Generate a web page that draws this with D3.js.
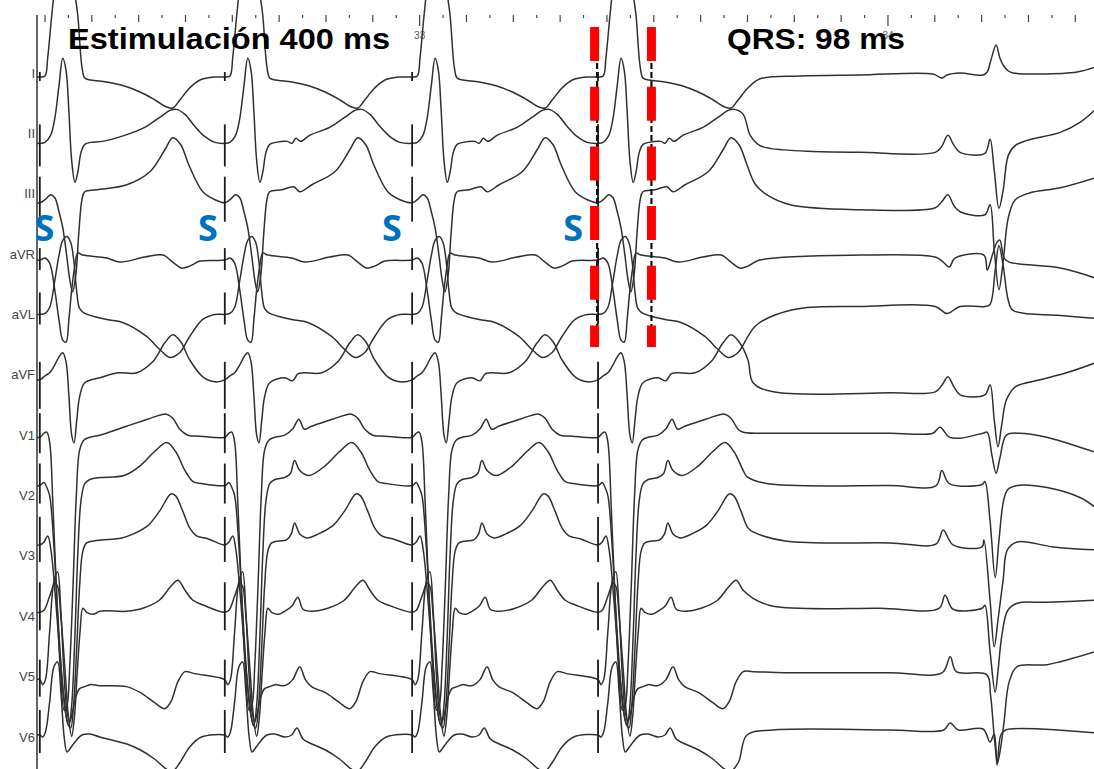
<!DOCTYPE html>
<html>
<head>
<meta charset="utf-8">
<script src="https://cdn.jsdelivr.net/npm/d3@7"></script>
<style>
  body { margin: 0; background: #fff; }
  svg { display: block; font-family: "Liberation Sans", Arial, sans-serif; }
</style>
</head>
<body>
<div id="container"></div>
<script>
// ---- data (time in ms on the recording clock, amplitude in mV) ----
const leads = ["I", "II", "III", "aVR", "aVL", "aVF", "V1", "V2", "V3", "V4", "V5", "V6"];
const stimTimes = [32190, 32585, 32985, 33382];
const sMarkTimes = [32200, 32549, 32942, 33329];
const blackCalipers = [33380, 33496];
const redCalipers = [33374.6, 33496];

// stimulus artifact height above / below the baseline (mV)
const spikeUp =   [0.05, 0.19, 0.26, 0.12, 0.22, 0.18, 0.24, 0.22, 0.28, 0.30, 0.20, 0.25];
const spikeDown = [0.04, 0.23, 0.19, 0.10, 0.10, 0.29, 0.16, 0.18, 0.17, 0.18, 0.17, 0.18];

// paced beat: [ms after stimulus, mV, 1 = wave seen only from the 2nd beat on]
const pacedI = [[0,-0.04],[11,-0.03],[17,0.16],[26,0.60],[34,0.91],[45,1.08],[56,1.10],[66,1.00],[75,0.78],[81,0.58],[90,0.06],[96,-0.05],[109,-0.07],[143,-0.09],[181,-0.13],[214,-0.19],[246,-0.27],[271,-0.34],[284,-0.35],[299,-0.27],[320,-0.15],[342,-0.07],[374,-0.04],[399,-0.04]];
const pacedII = [[0,-0.10],[11,-0.09],[23,-0.02],[32,0.15],[41,0.48],[49,0.75],[56,0.63],[62,0.23],[68,-0.27],[75,-0.49],[81,-0.39],[88,-0.19],[96,-0.11],[109,-0.09],[134,-0.08],[143,-0.10,1],[152,-0.05,1],[162,-0.08,1],[181,-0.02],[224,0.06],[256,0.16],[278,0.23],[292,0.24],[310,0.19],[331,0.07],[352,-0.03],[374,-0.09],[399,-0.10]];
const pacedIII = [[0,-0.09],[11,-0.06],[23,-0.01],[32,-0.04],[41,-0.18],[49,-0.34],[58,-0.64],[64,-0.86],[70,-0.98],[77,-0.81],[83,-0.41],[90,-0.06],[96,0.02],[122,0.04],[147,0.07,1],[160,0.02,1],[186,0.09],[235,0.22],[267,0.44],[284,0.56],[301,0.49],[318,0.29],[348,0.02],[374,-0.06],[399,-0.09]];
const pacedAVR = [[0,-0.06],[11,-0.04],[21,-0.09],[32,-0.36],[41,-0.66],[49,-0.86],[56,-0.88],[62,-0.66],[68,-0.36],[75,-0.11],[81,0.01],[92,-0.01],[143,-0.04],[171,-0.08],[224,-0.03],[263,-0.01],[284,-0.08],[303,-0.14],[320,-0.12],[342,-0.07],[399,-0.04]];
const pacedAVL = [[0,0.0],[11,0.01],[21,0.07],[32,0.34],[41,0.59],[49,0.74],[58,0.78],[66,0.72],[73,0.52],[79,0.22],[85,0.06],[96,0.01],[143,-0.05],[177,-0.08],[228,-0.22],[256,-0.35],[278,-0.43],[299,-0.38],[320,-0.22],[348,-0.05],[374,0.0],[399,0.01]];
const pacedAVF = [[0,-0.05],[11,-0.01],[21,0.02],[32,0.10],[41,0.18],[49,0.22],[56,0.13],[62,-0.20],[68,-0.60],[73,-0.68],[79,-0.45],[85,-0.22],[96,-0.08],[128,-0.03],[145,-0.06,1],[156,0.01,1],[167,0.02],[207,0.02],[241,0.13],[267,0.32],[284,0.40],[301,0.33],[320,0.15],[348,-0.02],[374,-0.07],[399,-0.09]];
const pacedV1 = [[0,-0.02],[9,0.02],[15,0.03],[21,-0.07],[28,-0.7],[36,-1.6],[44,-2.35],[52,-2.75],[58,-2.7],[64,-2.3],[71,-1.5],[78,-0.6],[85,-0.15],[94,-0.05],[107,-0.02],[128,0.0],[146,0.07,1],[158,0.16,1],[170,0.06,1],[185,0.09],[230,0.16],[256,0.20],[271,0.21],[284,0.17],[299,0.06],[316,0.0],[342,-0.01],[399,-0.02]];
const pacedV2 = [[0,0.10],[9,0.13],[15,0.08],[21,0.0],[30,-0.5],[38,-1.15],[47,-1.8],[56,-2.2],[62,-2.3],[68,-2.1],[75,-1.4],[81,-0.6],[88,-0.05],[96,0.12],[107,0.16],[128,0.18],[140,0.22,1],[149,0.35,1],[160,0.25,1],[180,0.20],[215,0.30],[245,0.44],[271,0.53],[290,0.44],[310,0.25],[327,0.14],[345,0.12],[399,0.12]];
const pacedV3 = [[0,0.11],[9,0.14],[17,0.20],[24,0.05],[34,-0.45],[43,-1.0],[52,-1.45],[60,-1.68],[66,-1.72],[72,-1.5],[79,-0.9],[85,-0.3],[92,0.05],[100,0.13],[115,0.15],[132,0.16],[142,0.22,1],[149,0.33,1],[160,0.22,1],[175,0.18],[200,0.22],[230,0.30],[256,0.45],[280,0.62],[290,0.60],[305,0.45],[320,0.28],[335,0.20],[360,0.17],[399,0.16]];
const pacedV4 = [[0,0.04],[9,0.06],[21,0.20],[32,0.33],[38,0.30],[45,0.0],[54,-0.55],[61,-1.0],[68,-1.2],[74,-1.0],[80,-0.55],[86,-0.15],[92,0.08],[100,0.04],[115,0.02],[128,0.05],[143,0.10,1],[156,0.19,1],[167,0.07,1],[185,0.05],[220,0.08],[255,0.16],[280,0.30],[295,0.36],[310,0.26],[327,0.16],[350,0.11],[399,0.09]];
const pacedV5 = [[0,-0.03],[6,-0.08],[12,-0.03],[21,0.45],[30,0.95],[38,1.05],[45,0.65],[52,0.0],[58,-0.35],[64,-0.45],[70,-0.35],[77,-0.2],[85,-0.12],[96,-0.1],[107,-0.08],[128,-0.09],[145,-0.03,1],[160,0.10,1],[172,-0.03,1],[185,-0.10],[215,-0.16],[245,-0.26],[267,-0.32],[280,-0.25],[295,-0.05],[310,0.05],[330,0.03],[399,0.02]];
const pacedV6 = [[0,0.02],[6,0.0],[12,0.05],[21,0.35],[30,0.7],[38,0.75],[45,0.45],[52,0.0],[58,-0.15],[64,-0.12],[75,-0.05],[90,0.02],[107,0.03],[128,0.0],[143,0.02,1],[154,0.09,1],[167,-0.02,1],[186,-0.07],[215,-0.13],[245,-0.22],[270,-0.32],[284,-0.34],[300,-0.25],[320,-0.10],[345,0.0],[399,0.05]];

// after the last stimulus: pause, P wave and the conducted QRS [ms after last stimulus, mV]
const tailI = [[345,-0.06],[431,-0.03],[559,-0.02],[715,-0.01],[734,-0.05],[745,-0.02],[773,0.0],[822,-0.02],[831,0.01],[839,0.13],[850,0.28],[858,0.15],[865,0.08],[876,0.02],[886,0.0],[944,-0.01],[1023,0.01],[1062,0.06]];
const tailII = [[325,-0.02],[345,-0.12],[367,-0.15],[450,-0.18],[559,-0.19],[720,-0.19],[734,-0.13],[747,-0.02],[760,-0.12],[773,-0.19],[826,-0.20],[837,-0.06],[846,-0.37],[856,-0.75],[865,-0.57],[876,-0.22],[891,-0.12],[916,-0.07],[987,0.01],[1029,0.11],[1062,0.24]];
const tailIII = [[335,0.10],[360,-0.01],[410,-0.11],[559,-0.16],[720,-0.14],[734,-0.08],[747,-0.01],[760,-0.12],[773,-0.18],[826,-0.21],[837,-0.11],[846,-0.56],[856,-0.96],[865,-0.68],[876,-0.24],[891,-0.06],[923,0.01],[987,0.06],[1062,0.16]];
const tailAVR = [[345,-0.06],[559,-0.01],[720,-0.03],[737,-0.08],[750,-0.13],[762,-0.04],[824,-0.01],[831,-0.16],[842,-0.01],[852,0.12],[858,0.14],[867,-0.04],[878,-0.08],[987,-0.14],[1062,-0.24]];
const tailAVL = [[335,-0.12],[365,-0.03],[431,0.06],[559,0.08],[720,0.08],[745,0.01],[773,0.08],[826,0.08],[837,0.10],[848,0.44],[856,0.69],[865,0.49],[876,0.14],[886,0.04],[987,-0.01],[1062,-0.04]];
const tailAVF = [[331,-0.08],[374,-0.17],[623,-0.18],[720,-0.17],[735,-0.10],[747,-0.02],[760,-0.12],[773,-0.20],[826,-0.20],[837,-0.10],[846,-0.45],[854,-0.72],[862,-0.50],[872,-0.25],[891,-0.12],[944,-0.05],[1000,0.02],[1062,0.12]];
const tailV1 = [[310,0.03],[400,0.02],[623,0.02],[715,0.02],[730,0.08],[750,-0.02],[773,-0.03],[822,0.02],[831,0.03],[841,-0.2],[850,-0.38],[858,-0.23],[872,0.0],[900,0.02],[958,-0.02],[1029,-0.12],[1062,-0.17]];
const tailV2 = [[318,0.19],[360,0.12],[623,0.10],[722,0.10],[734,0.25],[750,0.12],[820,0.11],[826,0.14],[837,-0.25],[848,-0.82],[856,-0.45],[866,-0.05],[875,0.06],[895,0.10],[959,0.08],[1029,-0.02],[1062,-0.12]];
const tailV3 = [[331,0.24],[400,0.15],[623,0.13],[722,0.12],[737,0.26],[758,0.11],[820,0.09],[824,0.16],[837,-0.44],[846,-0.91],[854,-0.64],[865,-0.24],[874,0.06],[895,0.14],[972,0.09],[1062,0.06]];
const tailV4 = [[331,0.18],[374,0.10],[602,0.08],[728,0.08],[741,0.21],[758,0.07],[820,0.08],[826,0.11],[837,-0.35],[848,-0.76],[854,-0.55],[862,-0.2],[875,0.06],[895,0.13],[959,0.14],[1062,0.16]];
const tailV5 = [[331,0.05],[400,0.04],[623,0.04],[735,0.04],[752,0.20],[765,0.05],[830,0.02],[838,-0.18],[847,-0.65],[853,-0.86],[860,-0.7],[867,-0.45],[878,-0.05],[895,0.10],[959,0.12],[1062,0.25]];
const tailV6 = [[318,0.02],[374,0.07],[623,0.07],[738,0.07],[752,0.14],[769,0.07],[822,0.08],[837,-0.05],[846,0.03],[852,-0.28],[860,0.02],[870,0.07],[1062,0.04]];

const paced = [pacedI, pacedII, pacedIII, pacedAVR, pacedAVL, pacedAVF, pacedV1, pacedV2, pacedV3, pacedV4, pacedV5, pacedV6];
const tails = [tailI, tailII, tailIII, tailAVR, tailAVL, tailAVF, tailV1, tailV2, tailV3, tailV4, tailV5, tailV6];

// ---- drawing ----
const width = 1094, height = 769;

const svg = d3.select("div#container")
  .append("svg")
  .attr("width", width)
  .attr("height", height);

svg.append("defs").append("clipPath").attr("id", "plot")
  .append("rect").attr("x", 37).attr("y", 0).attr("width", width - 37).attr("height", height);

// Scales
const x = d3.scaleLinear().domain([32184, 34441]).range([37, width]);
const row = d3.scalePoint().domain(leads).range([73, 737]);
const amp = d3.scaleLinear().domain([0, 1]).range([0, -100]);

// Time ruler
const tickTimes = d3.range(32200, 34450, 50);
const ruler = svg.append("g")
  .attr("transform", "translate(0,15)")
  .call(d3.axisBottom(x).tickValues(tickTimes).tickSizeOuter(0)
    .tickFormat((d) => (d % 1000 === 0 ? d / 1000 : "")));
ruler.select(".domain").remove();
ruler.selectAll(".tick line")
  .attr("stroke", "#444")
  .attr("stroke-width", 1.2)
  .attr("y2", (d) => (d % 1000 === 0 ? 11 : d % 100 === 0 ? 7 : 3));
ruler.selectAll(".tick text")
  .attr("y", 17)
  .attr("font-size", 10)
  .attr("font-family", "Liberation Sans, Arial, sans-serif")
  .attr("fill", "#555");

// Left border
svg.append("line")
  .attr("x1", 37).attr("x2", 37).attr("y1", 15).attr("y2", height)
  .attr("stroke", "#333").attr("stroke-width", 1.5);

// Lead labels
svg.append("g").selectAll("text")
  .data(leads)
  .enter()
  .append("text")
  .attr("x", 35)
  .attr("y", (d) => row(d))
  .attr("text-anchor", "end")
  .attr("dominant-baseline", "central")
  .attr("font-size", 13)
  .attr("fill", "#444")
  .text((d) => d);

// Build one continuous trace per lead
const buildTrace = (li) => {
  const tpl = paced[li], tail = tails[li];
  const pts = [[stimTimes[0] - 20, tpl[0][1]]];
  stimTimes.forEach((s, i) => {
    const last = i === stimTimes.length - 1;
    const limit = last ? tail[0][0] - 4 : stimTimes[i + 1] - s - 4;
    tpl.forEach((p) => {
      if (p[0] >= limit) return;
      if (p[2] && i === 0) return;
      pts.push([s + p[0], p[1]]);
    });
    if (last) tail.forEach((p) => pts.push([s + p[0], p[1]]));
  });
  return pts;
};

const traces = svg.append("g").attr("clip-path", "url(#plot)");

leads.forEach((lead, li) => {
  const line = d3.line()
    .x((d) => x(d[0]))
    .y((d) => row(lead) + amp(d[1]))
    .curve(d3.curveCatmullRom.alpha(0.5));

  traces.append("path")
    .datum(buildTrace(li))
    .attr("d", line)
    .attr("fill", "none")
    .attr("stroke", "#303030")
    .attr("stroke-width", 1.5);

  // stimulus artifacts
  const v0 = paced[li][0][1];
  traces.append("g").selectAll("line")
    .data(stimTimes)
    .enter()
    .append("line")
    .attr("x1", (d) => x(d)).attr("x2", (d) => x(d))
    .attr("y1", row(lead) + amp(v0 + spikeUp[li]))
    .attr("y2", row(lead) + amp(v0 - spikeDown[li]))
    .attr("stroke", "#1a1a1a")
    .attr("stroke-width", 1.8);
});

// Calipers
svg.append("g").selectAll("line")
  .data(blackCalipers)
  .enter()
  .append("line")
  .attr("x1", (d) => x(d)).attr("x2", (d) => x(d))
  .attr("y1", 27).attr("y2", 347)
  .attr("stroke", "#111")
  .attr("stroke-width", 2.2)
  .attr("stroke-dasharray", "6,3");

svg.append("g").selectAll("line")
  .data(redCalipers)
  .enter()
  .append("line")
  .attr("x1", (d) => x(d)).attr("x2", (d) => x(d))
  .attr("y1", 27).attr("y2", 347)
  .attr("stroke", "#ff0000")
  .attr("stroke-width", 9)
  .attr("stroke-dasharray", "34,25.7");

// Stimulus "S" marks
svg.append("g").selectAll("text")
  .data(sMarkTimes)
  .enter()
  .append("text")
  .attr("x", (d) => x(d))
  .attr("y", 241)
  .attr("text-anchor", "middle")
  .attr("font-family", "'Open Sans', sans-serif")
  .attr("font-weight", "bold")
  .attr("font-size", 36)
  .attr("fill", "#0070c0")
  .text("S");

// Titles
svg.append("text")
  .attr("x", 68).attr("y", 49)
  .attr("font-size", 30).attr("font-weight", "bold")
  .attr("textLength", 322).attr("lengthAdjust", "spacingAndGlyphs")
  .attr("fill", "#000")
  .text("Estimulación 400 ms");

svg.append("text")
  .attr("x", 727).attr("y", 49)
  .attr("font-size", 30).attr("font-weight", "bold")
  .attr("textLength", 178).attr("lengthAdjust", "spacingAndGlyphs")
  .attr("fill", "#000")
  .text("QRS: 98 ms");
</script>
</body>
</html>
